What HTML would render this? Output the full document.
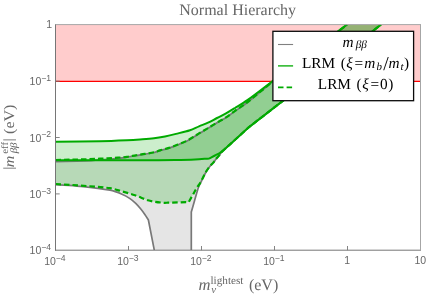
<!DOCTYPE html>
<html>
<head>
<meta charset="utf-8">
<title>Normal Hierarchy</title>
<style>
html,body{margin:0;padding:0;background:#fff;}
body{width:427px;height:295px;overflow:hidden;}
svg{display:block;will-change:transform;}
.sf text,text.sf{text-rendering:geometricPrecision;}
.ss{font-family:"Liberation Sans",sans-serif;}
.sf{font-family:"Liberation Serif",serif;}
.it{font-style:italic;}
</style>
</head>
<body>
<svg width="427" height="295" viewBox="0 0 427 295">
<defs>
<clipPath id="cp"><rect x="55.5" y="24.6" width="365" height="225.6"/></clipPath>
</defs>
<rect x="0" y="0" width="427" height="295" fill="#ffffff"/>
<g clip-path="url(#cp)">
<!-- gray band -->
<path fill="#000" fill-opacity="0.1" stroke="none" d="M55.50,161.60 C65.33,161.40 75.17,161.35 85.00,161.00 C90.01,160.82 95.01,160.41 100.00,160.00 C106.01,159.51 112.01,158.94 118.00,158.30 C121.01,157.98 124.01,157.57 127.00,157.10 C130.01,156.63 132.99,156.00 136.00,155.50 C138.99,155.00 142.01,154.60 145.00,154.10 C148.01,153.60 151.04,153.19 154.00,152.50 C156.04,152.02 157.99,151.19 160.00,150.60 C162.99,149.72 166.04,149.07 169.00,148.10 C172.04,147.10 175.02,145.89 178.00,144.70 C181.02,143.49 184.09,142.34 187.00,140.90 C189.42,139.71 191.69,138.21 194.00,136.80 C195.69,135.77 197.31,134.63 199.00,133.60 C201.98,131.79 205.01,130.09 208.00,128.30 C211.01,126.49 213.98,124.60 217.00,122.80 C219.98,121.03 223.10,119.49 226.00,117.60 C229.10,115.59 231.98,113.24 235.00,111.10 C238.98,108.27 243.11,105.64 247.00,102.70 C251.44,99.34 255.71,95.75 260.00,92.20 C264.17,88.75 268.27,85.20 272.40,81.70 L347.20,24.60 L381.00,24.60 L249.00,127.10 C245.67,130.13 242.33,133.16 239.00,136.20 C236.33,138.63 233.67,141.07 231.00,143.50 C229.34,145.01 227.65,146.48 226.00,148.00 C224.51,149.38 222.97,150.72 221.60,152.20 C220.91,152.95 220.44,153.90 219.80,154.70 C218.41,156.43 216.88,158.06 215.50,159.80 C214.85,160.63 214.38,161.60 213.70,162.40 C212.68,163.60 211.39,164.58 210.40,165.80 C208.99,167.54 207.66,169.38 206.50,171.30 C205.02,173.75 203.81,176.35 202.50,178.90 C201.91,180.05 201.37,181.24 200.80,182.40 C200.31,183.40 199.80,184.40 199.30,185.40 C198.87,186.53 198.37,187.64 198.00,188.80 C197.10,191.61 196.31,194.46 195.50,197.30 C194.61,200.39 193.78,203.51 192.90,206.60 C192.38,208.41 191.83,210.20 191.30,212.00 L191.30,250.20 L154.30,250.20 L148.40,220.00 C147.33,218.33 146.32,216.63 145.20,215.00 C143.86,213.06 142.48,211.13 141.00,209.30 C139.41,207.33 137.81,205.36 136.00,203.60 C134.14,201.79 132.15,200.04 130.00,198.60 C127.48,196.91 124.79,195.37 122.00,194.20 C118.13,192.57 114.13,190.98 110.00,190.20 C100.13,188.34 90.03,187.33 80.00,186.30 C71.86,185.46 63.67,185.17 55.50,184.60 Z"/>
<!-- pink -->
<rect x="55.5" y="24.6" width="365" height="56.6" fill="#ff0000" fill-opacity="0.2"/>
<!-- solid green band fill -->
<path fill="#00aa00" fill-opacity="0.2" d="M55.50,141.80 C70.33,141.60 85.17,141.53 100.00,141.20 C109.00,141.00 118.00,140.60 127.00,140.20 C131.34,140.00 135.67,139.72 140.00,139.40 C144.67,139.05 149.35,138.76 154.00,138.20 C157.69,137.76 161.36,137.11 165.00,136.40 C168.69,135.68 172.35,134.80 176.00,133.90 C180.68,132.74 185.43,131.71 190.00,130.20 C193.10,129.18 195.98,127.56 199.00,126.30 C201.98,125.06 205.07,124.05 208.00,122.70 C211.07,121.28 213.99,119.55 217.00,118.00 C219.99,116.45 223.06,115.04 226.00,113.40 C229.06,111.70 232.03,109.84 235.00,108.00 C239.03,105.51 243.15,103.16 247.00,100.40 C255.62,94.22 263.93,87.60 272.40,81.20 L346.80,24.60 L381.00,24.60 L249.00,127.10 C245.67,130.13 242.33,133.16 239.00,136.20 C236.33,138.63 233.67,141.07 231.00,143.50 C229.34,145.01 227.70,146.54 226.00,148.00 C224.17,149.57 222.39,151.25 220.40,152.60 C218.72,153.75 216.81,154.56 215.00,155.50 C213.08,156.49 211.13,157.43 209.20,158.40 C204.47,158.77 199.74,159.26 195.00,159.50 C188.34,159.83 181.67,159.98 175.00,160.10 C166.67,160.25 158.33,160.23 150.00,160.30 L55.50,160.30 Z"/>
<!-- dashed green band fill -->
<path fill="#00aa00" fill-opacity="0.2" d="M55.50,160.00 C65.33,159.77 75.17,159.59 85.00,159.30 C90.00,159.15 95.00,158.94 100.00,158.70 C106.00,158.41 112.01,158.12 118.00,157.70 C121.01,157.49 124.01,157.20 127.00,156.80 C130.01,156.40 133.00,155.78 136.00,155.30 C139.00,154.82 142.01,154.40 145.00,153.90 C148.01,153.40 151.04,152.99 154.00,152.30 C156.04,151.82 157.99,150.99 160.00,150.40 C162.99,149.52 166.04,148.87 169.00,147.90 C172.04,146.90 175.02,145.69 178.00,144.50 C181.02,143.29 184.09,142.14 187.00,140.70 C189.42,139.51 191.69,138.01 194.00,136.60 C195.69,135.57 197.31,134.43 199.00,133.40 C201.98,131.59 205.01,129.89 208.00,128.10 C211.01,126.29 213.98,124.40 217.00,122.60 C219.98,120.83 223.10,119.29 226.00,117.40 C229.10,115.39 231.98,113.04 235.00,110.90 C238.98,108.07 243.11,105.44 247.00,102.50 C251.44,99.14 255.69,95.53 260.00,92.00 C264.16,88.60 268.27,85.13 272.40,81.70 L347.20,24.60 L381.00,24.60 L249.00,127.10 C245.67,130.13 242.33,133.16 239.00,136.20 C236.33,138.63 233.67,141.07 231.00,143.50 C229.34,145.01 227.65,146.49 226.00,148.00 C224.49,149.39 222.91,150.72 221.50,152.20 C220.78,152.95 220.26,153.89 219.60,154.70 C218.19,156.42 216.68,158.06 215.30,159.80 C214.65,160.63 214.18,161.60 213.50,162.40 C212.48,163.60 211.19,164.58 210.20,165.80 C208.79,167.54 207.46,169.38 206.30,171.30 C204.82,173.75 203.61,176.35 202.30,178.90 C201.71,180.05 201.27,181.30 200.60,182.40 C199.44,184.30 197.98,186.01 196.80,187.90 C195.41,190.11 194.19,192.43 192.90,194.70 C191.49,197.16 190.10,199.63 188.70,202.10 C185.80,202.17 182.90,202.22 180.00,202.30 C176.00,202.42 172.00,202.57 168.00,202.70 C166.67,202.74 165.33,202.89 164.00,202.80 C160.99,202.59 157.98,202.27 155.00,201.80 C152.65,201.43 150.26,201.05 148.00,200.30 C143.59,198.85 139.40,196.71 135.00,195.20 C130.73,193.74 126.35,192.62 122.00,191.40 C118.01,190.28 114.09,188.77 110.00,188.20 C100.09,186.81 90.01,186.27 80.00,185.50 C71.84,184.87 63.67,184.50 55.50,184.00 Z"/>
<!-- gray lines -->
<path fill="none" stroke="#787878" stroke-width="1.7" stroke-linejoin="round" d="M55.50,161.60 C65.33,161.40 75.17,161.35 85.00,161.00 C90.01,160.82 95.01,160.41 100.00,160.00 C106.01,159.51 112.01,158.94 118.00,158.30 C121.01,157.98 124.01,157.57 127.00,157.10 C130.01,156.63 132.99,156.00 136.00,155.50 C138.99,155.00 142.01,154.60 145.00,154.10 C148.01,153.60 151.04,153.19 154.00,152.50 C156.04,152.02 157.99,151.19 160.00,150.60 C162.99,149.72 166.04,149.07 169.00,148.10 C172.04,147.10 175.02,145.89 178.00,144.70 C181.02,143.49 184.09,142.34 187.00,140.90 C189.42,139.71 191.69,138.21 194.00,136.80 C195.69,135.77 197.31,134.63 199.00,133.60 C201.98,131.79 205.01,130.09 208.00,128.30 C211.01,126.49 213.98,124.60 217.00,122.80 C219.98,121.03 223.10,119.49 226.00,117.60 C229.10,115.59 231.98,113.24 235.00,111.10 C238.98,108.27 243.11,105.64 247.00,102.70 C251.44,99.34 255.71,95.75 260.00,92.20 C264.17,88.75 268.27,85.20 272.40,81.70 L347.20,24.60"/>
<path fill="none" stroke="#787878" stroke-width="1.7" stroke-linejoin="round" d="M55.50,184.60 C63.67,185.17 71.86,185.46 80.00,186.30 C90.03,187.33 100.13,188.34 110.00,190.20 C114.13,190.98 118.13,192.57 122.00,194.20 C124.79,195.37 127.48,196.91 130.00,198.60 C132.15,200.04 134.14,201.79 136.00,203.60 C137.81,205.36 139.41,207.33 141.00,209.30 C142.48,211.13 143.86,213.06 145.20,215.00 C146.32,216.63 147.33,218.33 148.40,220.00 L154.30,250.20"/>
<path fill="none" stroke="#787878" stroke-width="1.7" stroke-linejoin="round" d="M191.30,250.20 L191.30,212.00 C191.83,210.20 192.38,208.41 192.90,206.60 C193.78,203.51 194.61,200.39 195.50,197.30 C196.31,194.46 197.10,191.61 198.00,188.80 C198.37,187.64 198.87,186.53 199.30,185.40 C199.80,184.40 200.31,183.40 200.80,182.40 C201.37,181.24 201.91,180.05 202.50,178.90 C203.81,176.35 205.02,173.75 206.50,171.30 C207.66,169.38 208.99,167.54 210.40,165.80 C211.39,164.58 212.68,163.60 213.70,162.40 C214.38,161.60 214.85,160.63 215.50,159.80 C216.88,158.06 218.41,156.43 219.80,154.70 C220.44,153.90 220.91,152.95 221.60,152.20 C222.97,150.72 224.51,149.38 226.00,148.00 C227.65,146.48 229.34,145.01 231.00,143.50 C233.67,141.07 236.33,138.63 239.00,136.20 C242.33,133.16 245.67,130.13 249.00,127.10 L381.00,24.60"/>
<!-- red line -->
<line x1="55.5" y1="81.35" x2="420.5" y2="81.35" stroke="#ff0000" stroke-width="1.1"/>
<!-- solid green lines -->
<path fill="none" stroke="#00aa00" stroke-width="2" stroke-linejoin="round" d="M55.50,141.80 C70.33,141.60 85.17,141.53 100.00,141.20 C109.00,141.00 118.00,140.60 127.00,140.20 C131.34,140.00 135.67,139.72 140.00,139.40 C144.67,139.05 149.35,138.76 154.00,138.20 C157.69,137.76 161.36,137.11 165.00,136.40 C168.69,135.68 172.35,134.80 176.00,133.90 C180.68,132.74 185.43,131.71 190.00,130.20 C193.10,129.18 195.98,127.56 199.00,126.30 C201.98,125.06 205.07,124.05 208.00,122.70 C211.07,121.28 213.99,119.55 217.00,118.00 C219.99,116.45 223.06,115.04 226.00,113.40 C229.06,111.70 232.03,109.84 235.00,108.00 C239.03,105.51 243.15,103.16 247.00,100.40 C255.62,94.22 263.93,87.60 272.40,81.20 L346.80,24.60"/>
<path fill="none" stroke="#00aa00" stroke-width="2" stroke-linejoin="round" d="M55.50,160.30 L150.00,160.30 C158.33,160.23 166.67,160.25 175.00,160.10 C181.67,159.98 188.34,159.83 195.00,159.50 C199.74,159.26 204.47,158.77 209.20,158.40 C211.13,157.43 213.08,156.49 215.00,155.50 C216.81,154.56 218.72,153.75 220.40,152.60 C222.39,151.25 224.17,149.57 226.00,148.00 C227.70,146.54 229.34,145.01 231.00,143.50 C233.67,141.07 236.33,138.63 239.00,136.20 C242.33,133.16 245.67,130.13 249.00,127.10 L381.00,24.60"/>
<!-- dashed green lines -->
<path fill="none" stroke="#00aa00" stroke-width="2.2" stroke-dasharray="5.5,3" stroke-linejoin="round" d="M55.50,160.00 C65.33,159.77 75.17,159.59 85.00,159.30 C90.00,159.15 95.00,158.94 100.00,158.70 C106.00,158.41 112.01,158.12 118.00,157.70 C121.01,157.49 124.01,157.20 127.00,156.80 C130.01,156.40 133.00,155.78 136.00,155.30 C139.00,154.82 142.01,154.40 145.00,153.90 C148.01,153.40 151.04,152.99 154.00,152.30 C156.04,151.82 157.99,150.99 160.00,150.40 C162.99,149.52 166.04,148.87 169.00,147.90 C172.04,146.90 175.02,145.69 178.00,144.50 C181.02,143.29 184.09,142.14 187.00,140.70 C189.42,139.51 191.69,138.01 194.00,136.60 C195.69,135.57 197.31,134.43 199.00,133.40 C201.98,131.59 205.01,129.89 208.00,128.10 C211.01,126.29 213.98,124.40 217.00,122.60 C219.98,120.83 223.10,119.29 226.00,117.40 C229.10,115.39 231.98,113.04 235.00,110.90 C238.98,108.07 243.11,105.44 247.00,102.50 C251.44,99.14 255.69,95.53 260.00,92.00 C264.16,88.60 268.27,85.13 272.40,81.70 L347.20,24.60"/>
<path fill="none" stroke="#00aa00" stroke-width="2.2" stroke-dasharray="5.5,3" stroke-linejoin="round" d="M55.50,184.00 C63.67,184.50 71.84,184.87 80.00,185.50 C90.01,186.27 100.09,186.81 110.00,188.20 C114.09,188.77 118.01,190.28 122.00,191.40 C126.35,192.62 130.73,193.74 135.00,195.20 C139.40,196.71 143.59,198.85 148.00,200.30 C150.26,201.05 152.65,201.43 155.00,201.80 C157.98,202.27 160.99,202.59 164.00,202.80 C165.33,202.89 166.67,202.74 168.00,202.70 C172.00,202.57 176.00,202.42 180.00,202.30 C182.90,202.22 185.80,202.17 188.70,202.10 C190.10,199.63 191.49,197.16 192.90,194.70 C194.19,192.43 195.41,190.11 196.80,187.90 C197.98,186.01 199.44,184.30 200.60,182.40 C201.27,181.30 201.71,180.05 202.30,178.90 C203.61,176.35 204.82,173.75 206.30,171.30 C207.46,169.38 208.79,167.54 210.20,165.80 C211.19,164.58 212.48,163.60 213.50,162.40 C214.18,161.60 214.65,160.63 215.30,159.80 C216.68,158.06 218.19,156.42 219.60,154.70 C220.26,153.89 220.78,152.95 221.50,152.20 C222.91,150.72 224.49,149.39 226.00,148.00 C227.65,146.49 229.34,145.01 231.00,143.50 C233.67,141.07 236.33,138.63 239.00,136.20 C242.33,133.16 245.67,130.13 249.00,127.10 L381.00,24.60"/>
</g>
<!-- frame -->
<g stroke="#767676" stroke-width="1" fill="none">
<line x1="55.5" y1="24.1" x2="55.5" y2="250.7"/>
<line x1="55" y1="250.2" x2="421" y2="250.2"/>
</g>
<g stroke="#a6a6a6" stroke-width="1" fill="none">
<line x1="55.5" y1="24.6" x2="421" y2="24.6"/>
<line x1="420.5" y1="24.6" x2="420.5" y2="250.2"/>
</g>
<!-- ticks -->
<g stroke="#767676" stroke-width="0.9">
<line x1="55.5" y1="81.2" x2="59.7" y2="81.2"/>
<line x1="55.5" y1="137.5" x2="59.7" y2="137.5"/>
<line x1="55.5" y1="193.9" x2="59.7" y2="193.9"/>
<line x1="128.5" y1="250.2" x2="128.5" y2="246"/>
<line x1="201.5" y1="250.2" x2="201.5" y2="246"/>
<line x1="274.5" y1="250.2" x2="274.5" y2="246"/>
<line x1="347.5" y1="250.2" x2="347.5" y2="246"/>
</g>
<!-- y tick labels -->
<g class="ss" fill="#666666" font-size="10.5" text-anchor="end">
<text x="52" y="27.6">1</text>
<text x="51.1" y="85.4">10<tspan font-size="8.6" dy="-4.2">−1</tspan></text>
<text x="51.1" y="141.6">10<tspan font-size="8.6" dy="-4.2">−2</tspan></text>
<text x="51.1" y="198">10<tspan font-size="8.6" dy="-4.2">−3</tspan></text>
<text x="51.1" y="254.4">10<tspan font-size="8.6" dy="-4.2">−4</tspan></text>
</g>
<!-- x tick labels -->
<g class="ss" fill="#666666" font-size="10.5" text-anchor="middle">
<text x="54.9" y="265.3">10<tspan font-size="8.6" dy="-4.2">−4</tspan></text>
<text x="127.9" y="265.3">10<tspan font-size="8.6" dy="-4.2">−3</tspan></text>
<text x="200.9" y="265.3">10<tspan font-size="8.6" dy="-4.2">−2</tspan></text>
<text x="273.9" y="265.3">10<tspan font-size="8.6" dy="-4.2">−1</tspan></text>
<text x="347.2" y="263.6">1</text>
<text x="420.3" y="263.6">10</text>
</g>
<!-- title -->
<text class="sf" x="237.7" y="14.8" font-size="16" fill="#666666" text-anchor="middle">Normal Hierarchy</text>
<!-- x label -->
<g class="sf" fill="#666666" font-size="16">
<text x="198.5" y="289.9" class="it" font-size="16.6">m</text>
<text x="210.5" y="284.3" font-size="11.2">lightest</text>
<text x="211.2" y="292.5" font-size="11" class="it">ν</text>
<text x="248.9" y="290">(eV)</text>
</g>
<!-- y label -->
<g class="sf" fill="#666666" font-size="16">
<g transform="translate(13.4,169.7) rotate(-90) scale(1,0.88)"><text x="0" y="0">|</text></g>
<g transform="translate(14.4,167.2) rotate(-90) scale(1,0.9)"><text x="0" y="0" class="it">m</text></g>
<g transform="translate(7.9,153.7) rotate(-90) scale(1,0.9)"><text x="0" y="0" font-size="10.8">eff</text></g>
<g transform="translate(17.1,153.3) rotate(-90) scale(1,0.9)"><text x="0" y="0" font-size="10.9" class="it">ββ</text></g>
<g transform="translate(13.4,141.6) rotate(-90) scale(1,0.88)"><text x="0" y="0">|</text></g>
<g transform="translate(13.6,133.95) rotate(-90) scale(1,0.92)"><text x="0" y="0">(eV)</text></g>
</g>
<!-- legend -->
<rect x="272.9" y="31.3" width="140.7" height="69.4" fill="#ffffff" stroke="#0a0a0a" stroke-width="1.3"/>
<line x1="278" y1="44.5" x2="293.1" y2="44.5" stroke="#808080" stroke-width="1.1"/>
<line x1="278" y1="65.9" x2="293.1" y2="65.9" stroke="#00aa00" stroke-width="1.3"/>
<line x1="278" y1="87.4" x2="293.1" y2="87.4" stroke="#00aa00" stroke-width="1.6" stroke-dasharray="5.5,3.1"/>
<g class="sf" fill="#000000" font-size="15.3">
<text x="342.5" y="47.1" class="it">m</text>
<text x="355.7" y="47.9" font-size="11.2" class="it">ββ</text>
<text x="302" y="67.9">LRM</text>
<text x="340.7" y="67.9">(</text>
<text x="346.3" y="67.9" class="it">ξ</text>
<text x="354.4" y="67.9">=</text>
<text x="364.2" y="67.9" class="it">m</text>
<text x="376.6" y="70" font-size="10.9" class="it">b</text>
<text x="383.2" y="70.4" font-size="19.6">/</text>
<text x="388.4" y="67.9" class="it">m</text>
<text x="400.6" y="70" font-size="10.9" class="it">t</text>
<text x="404.1" y="67.9">)</text>
<text x="317.8" y="89.4">LRM</text>
<text x="356.5" y="89.4">(</text>
<text x="362.2" y="89.4" class="it">ξ</text>
<text x="370.6" y="89.4">=</text>
<text x="379.9" y="89.4">0</text>
<text x="388.3" y="89.4">)</text>
</g>
</svg>
</body>
</html>
